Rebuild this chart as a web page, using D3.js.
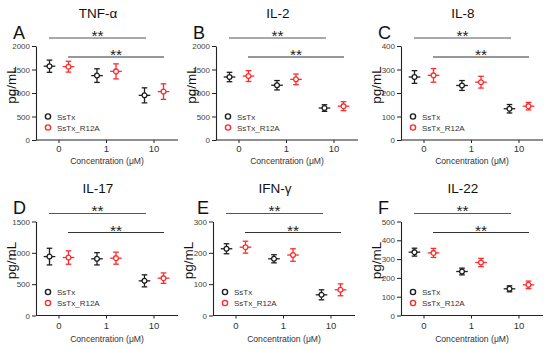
<!DOCTYPE html>
<html>
<head>
<meta charset="utf-8">
<script src="https://cdn.jsdelivr.net/npm/d3@7"></script>
<style>
  body { margin: 0; background: #fff; }
  svg { display: block; font-family: "Liberation Sans", Arial, sans-serif; }
</style>
</head>
<body>
<div id="chart"></div>
<script>
// panel data
const panelTitles = ["TNF-α", "IL-2", "IL-8", "IL-17", "IFN-γ", "IL-22"];
const panelLetters = ["A", "B", "C", "D", "E", "F"];
const yMax = [2000, 2000, 400, 1500, 300, 500];
const yStep = [500, 500, 100, 500, 100, 100];
const concLabels = ["0", "1", "10"];
const seriesNames = ["SsTx", "SsTx_R12A"];

const sstxMean = [[1570, 1370, 950], [1340, 1165, 680], [268, 232, 133], [940, 905, 553], [213, 181, 66], [337, 234, 142]];
const sstxErr  = [[130, 145, 160], [100, 100, 70], [27, 21, 18], [133, 98, 96], [16, 13, 16], [21, 18, 16]];
const r12aMean = [[1560, 1460, 1030], [1360, 1290, 720], [275, 246, 144], [925, 915, 596], [218, 193, 82], [333, 282, 163]];
const r12aErr  = [[115, 160, 165], [115, 113, 95], [29, 25, 16], [107, 96, 83], [19, 20, 19], [24, 22, 20]];

const colors = ["#1e1e1e", "#ff2b2b"];
const origins = [[0, 0], [180, 0], [365, 0], [0, 175.5], [177, 175.5], [365, 175.5]];

const width = 550, height = 350;
const svg = d3.select("#chart").append("svg")
  .attr("width", width)
  .attr("height", height);

const plotLeft = 36, plotRight = 178, plotTop = 46, plotBottom = 140;
const offset = 9.5;

panelTitles.forEach((title, i) => {
  const g = svg.append("g")
    .attr("transform", `translate(${origins[i][0]},${origins[i][1]})`);

  const x = d3.scalePoint().domain(concLabels).range([59, 154]);
  const y = d3.scaleLinear().domain([0, yMax[i]]).range([plotBottom, plotTop]);

  // y axis
  const yAxis = g.append("g")
    .attr("transform", `translate(${plotLeft},0)`)
    .call(d3.axisLeft(y)
      .tickValues(d3.range(0, yMax[i] + 1, yStep[i]))
      .tickFormat(d3.format("d"))
      .tickSize(4).tickSizeOuter(0).tickPadding(2));
  yAxis.select(".domain").attr("stroke", "#222").attr("stroke-width", 1.1);
  yAxis.selectAll(".tick line").attr("stroke", "#222");
  yAxis.selectAll(".tick text").attr("font-size", 8).attr("fill", "#444")
    .attr("font-family", "'Liberation Sans', Arial, sans-serif");

  // x axis
  g.append("line")
    .attr("x1", plotLeft).attr("x2", plotRight)
    .attr("y1", plotBottom).attr("y2", plotBottom)
    .attr("stroke", "#222").attr("stroke-width", 1.1);
  concLabels.forEach(c => {
    g.append("line")
      .attr("x1", x(c)).attr("x2", x(c))
      .attr("y1", plotBottom).attr("y2", plotBottom + 3)
      .attr("stroke", "#222");
    g.append("text")
      .attr("x", x(c)).attr("y", i < 3 ? 152 : 153)
      .attr("text-anchor", "middle")
      .attr("font-size", 9.5).attr("fill", "#333")
      .text(c);
  });

  g.append("text")
    .attr("x", 107).attr("y", i < 3 ? 164 : 166)
    .attr("text-anchor", "middle")
    .attr("font-size", 8.6).attr("fill", "#333")
    .text("Concentration (μM)");

  g.append("text")
    .attr("transform", "translate(15.5,85) rotate(-90)")
    .attr("text-anchor", "middle")
    .attr("font-size", 13.5).attr("fill", "#111")
    .text("pg/mL");

  // title and panel letter
  g.append("text")
    .attr("x", 98).attr("y", 17.5)
    .attr("text-anchor", "middle")
    .attr("font-size", 13.5).attr("fill", "#111")
    .text(title);
  g.append("text")
    .attr("x", i === 4 ? 20 : 13).attr("y", 38.5)
    .attr("font-size", 18).attr("fill", "#111")
    .text(panelLetters[i]);

  // significance brackets
  const brackets = [
    { x1: x("0") - 10, x2: x("10") - 8, y: 38, ty: 40.5, color: "#555" },
    { x1: x("0") + 9, x2: x("10") + 10, y: 57, ty: 60, color: "#333" }
  ];
  brackets.forEach(b => {
    g.append("line")
      .attr("x1", b.x1).attr("x2", b.x2)
      .attr("y1", b.y).attr("y2", b.y)
      .attr("stroke", b.color).attr("stroke-width", 1.1);
    g.append("text")
      .attr("x", (b.x1 + b.x2) / 2).attr("y", b.ty)
      .attr("text-anchor", "middle")
      .attr("font-size", 15.5).attr("fill", "#222")
      .text("**");
  });

  // points with error bars
  const series = [
    { mean: sstxMean[i], err: sstxErr[i], dx: -offset, color: colors[0] },
    { mean: r12aMean[i], err: r12aErr[i], dx: offset, color: colors[1] }
  ];
  series.forEach(s => {
    const pts = g.selectAll(null)
      .data(concLabels.map((c, j) => ({ c, m: s.mean[j], e: s.err[j] })))
      .enter().append("g")
      .attr("transform", d => `translate(${x(d.c) + s.dx},0)`)
      .attr("stroke", s.color)
      .attr("stroke-width", 1.3)
      .attr("fill", "none");
    pts.append("line")
      .attr("x1", 0).attr("x2", 0)
      .attr("y1", d => y(d.m + d.e)).attr("y2", d => y(d.m - d.e));
    pts.append("line")
      .attr("x1", -2.8).attr("x2", 2.8)
      .attr("y1", d => y(d.m + d.e)).attr("y2", d => y(d.m + d.e));
    pts.append("line")
      .attr("x1", -2.8).attr("x2", 2.8)
      .attr("y1", d => y(d.m - d.e)).attr("y2", d => y(d.m - d.e));
    pts.append("line")
      .attr("x1", -5.8).attr("x2", 5.8)
      .attr("y1", d => y(d.m)).attr("y2", d => y(d.m));
    pts.append("circle")
      .attr("cx", 0).attr("cy", d => y(d.m))
      .attr("r", 2.4)
      .attr("fill", "#fff");
  });

  // legend
  seriesNames.forEach((name, k) => {
    g.append("circle")
      .attr("cx", 48).attr("cy", 116.5 + k * 11)
      .attr("r", 2.6)
      .attr("fill", "none")
      .attr("stroke", colors[k]).attr("stroke-width", 1.4);
    g.append("text")
      .attr("x", 57).attr("y", 119.5 + k * 11)
      .attr("font-size", 8).attr("fill", "#333")
      .text(name);
  });
});
</script>
</body>
</html>
